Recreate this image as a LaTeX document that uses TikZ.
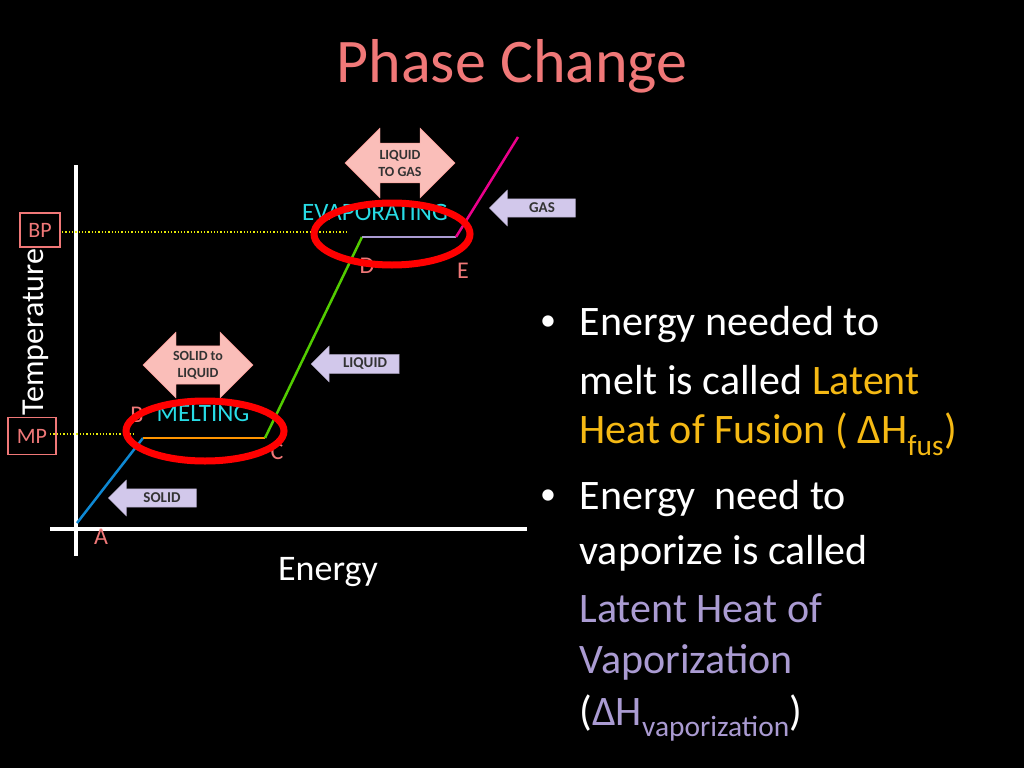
\documentclass[tikz,border=0pt]{standalone}
\usepackage{fontspec}
\setmainfont{Carlito}
\usetikzlibrary{shapes.arrows}
\definecolor{salmon}{RGB}{240,120,120}
\definecolor{pinkfill}{RGB}{250,190,185}
\definecolor{lav}{RGB}{210,200,235}
\definecolor{cyanT}{RGB}{40,220,230}
\definecolor{gold}{RGB}{245,185,20}
\definecolor{vap}{RGB}{170,155,210}
\begin{document}
\begin{tikzpicture}[x=1pt,y=-1pt,
  lbl/.style={text=salmon,font=\fontsize{24}{24}\selectfont},
  dbl/.style={double arrow,fill=pinkfill,draw=pinkfill!80!red,minimum width=66pt,double arrow head extend=11pt,inner sep=1pt,align=center,font=\fontsize{14}{17}\selectfont\bfseries,text=black!80,minimum height=110pt},
  sgl/.style={single arrow,shape border rotate=180,fill=lav,draw=lav!80!black,minimum width=36pt,single arrow head extend=6pt,inner sep=1pt,font=\fontsize{15}{15}\selectfont\bfseries,text=black!80,minimum height=88pt},
  btxt/.style={anchor=west,text=white,font=\fontsize{42}{42}\selectfont}]
\fill[black] (0,0) rectangle (1024,768);
\useasboundingbox (0,0) rectangle (1024,768);
\node (title) at (512,66) {\textcolor{salmon}{\fontsize{62}{62}\selectfont Phase Change}};
% axes
\draw[white,line width=4pt] (76,165) coordinate (yt) -- (76,556) coordinate (yb);
\draw[white,line width=4pt] (50,529) coordinate (xl) -- (527,529) coordinate (xr);
% dotted
\coordinate (bps) at (62,232); \coordinate (bpe) at (347,232);
\coordinate (mps) at (50,434); \coordinate (mpe) at (133,434);
\draw[yellow!90!green,dotted,line width=1.3pt] (bps) -- (bpe);
\draw[yellow!90!green,dotted,line width=1.3pt] (mps) -- (mpe);
% curve
\coordinate (A) at (77,523); \coordinate (B) at (143,438); \coordinate (C) at (265,438);
\coordinate (D) at (362,237); \coordinate (E) at (456,237); \coordinate (F) at (518,137);
\draw[cyan!70!blue,line width=2.5pt] (A) -- (B);
\draw[orange!80!red!70!yellow,line width=2.5pt] (B) -- (C);
\draw[green!60!yellow!80!black,line width=2.5pt] (C) -- (D);
\draw[vap,line width=2.5pt] (D) -- (E);
\draw[magenta,line width=2.5pt] (E) -- (F);
% arrows
\node[dbl] (sl) at (198,365) {SOLID to\\LIQUID};
\node[dbl,minimum width=70pt] (lg) at (400,163) {LIQUID\\TO GAS};
\node[sgl] (solid) at (157,498) {\hspace{10pt}SOLID};
\node[sgl] (liq) at (360,364) {\hspace{10pt}LIQUID};
\node[sgl,minimum height=86pt] (gas) at (537,208) {\hspace{10pt}GAS};
% labels
\node[text=cyanT,font=\fontsize{25}{25}\selectfont] (evap) at (375,212) {EVAPORATING};
\node[text=cyanT,font=\fontsize{25}{25}\selectfont] (melt) at (203,413) {MELTING};
\node[lbl] (la) at (101,537) {A};
\node[lbl] (lb) at (137,415) {B};
\node[lbl] (lc) at (277,452) {C};
\node[lbl] (ld) at (367,266) {D};
\node[lbl] (le) at (463,271) {E};
% ellipses
\draw[red,line width=7pt] (205,431) ellipse (79pt and 30pt);
\draw[red,line width=7pt] (392,234) ellipse (78pt and 31pt);
% boxes
\node[draw=salmon,line width=1.5pt,text=salmon,font=\fontsize{22}{22}\selectfont,minimum width=40pt,minimum height=34pt,inner sep=1pt] (bp) at (40,230) {BP};
\node[draw=salmon,line width=1.5pt,text=salmon,font=\fontsize{22}{22}\selectfont,minimum width=48pt,minimum height=37pt,inner sep=1pt] (mp) at (32,436) {MP};
\node[rotate=90,text=white,font=\fontsize{32}{32}\selectfont] (temp) at (36,332) {Temperature};
\node[text=white,font=\fontsize{36}{36}\selectfont] (energy) at (328,572) {Energy};
% bullets
\node[text=white,font=\fontsize{32}{32}\selectfont] (b1) at (548,323) {•};
\node[text=white,font=\fontsize{32}{32}\selectfont] (b2) at (548,497) {•};
\node[btxt] (t1) at (576,325) {Energy needed to};
\node[btxt] (t2) at (576,380) {melt is called \textcolor{gold}{Latent}};
\node[btxt] (t3) at (576,434) {\textcolor{gold}{Heat of Fusion ( ΔH\textsubscript{fus})}};
\node[btxt] (t4) at (576,499) {Energy\ \ need to};
\node[btxt] (t5) at (576,553) {vaporize is called};
\node[btxt,text=vap] (t6) at (576,608) {Latent Heat of};
\node[btxt,text=vap] (t7) at (576,662) {Vaporization};
\node[btxt] (t8) at (576,718) {(\textcolor{vap}{ΔH\textsubscript{vaporization}})};
\end{tikzpicture}
\end{document}
